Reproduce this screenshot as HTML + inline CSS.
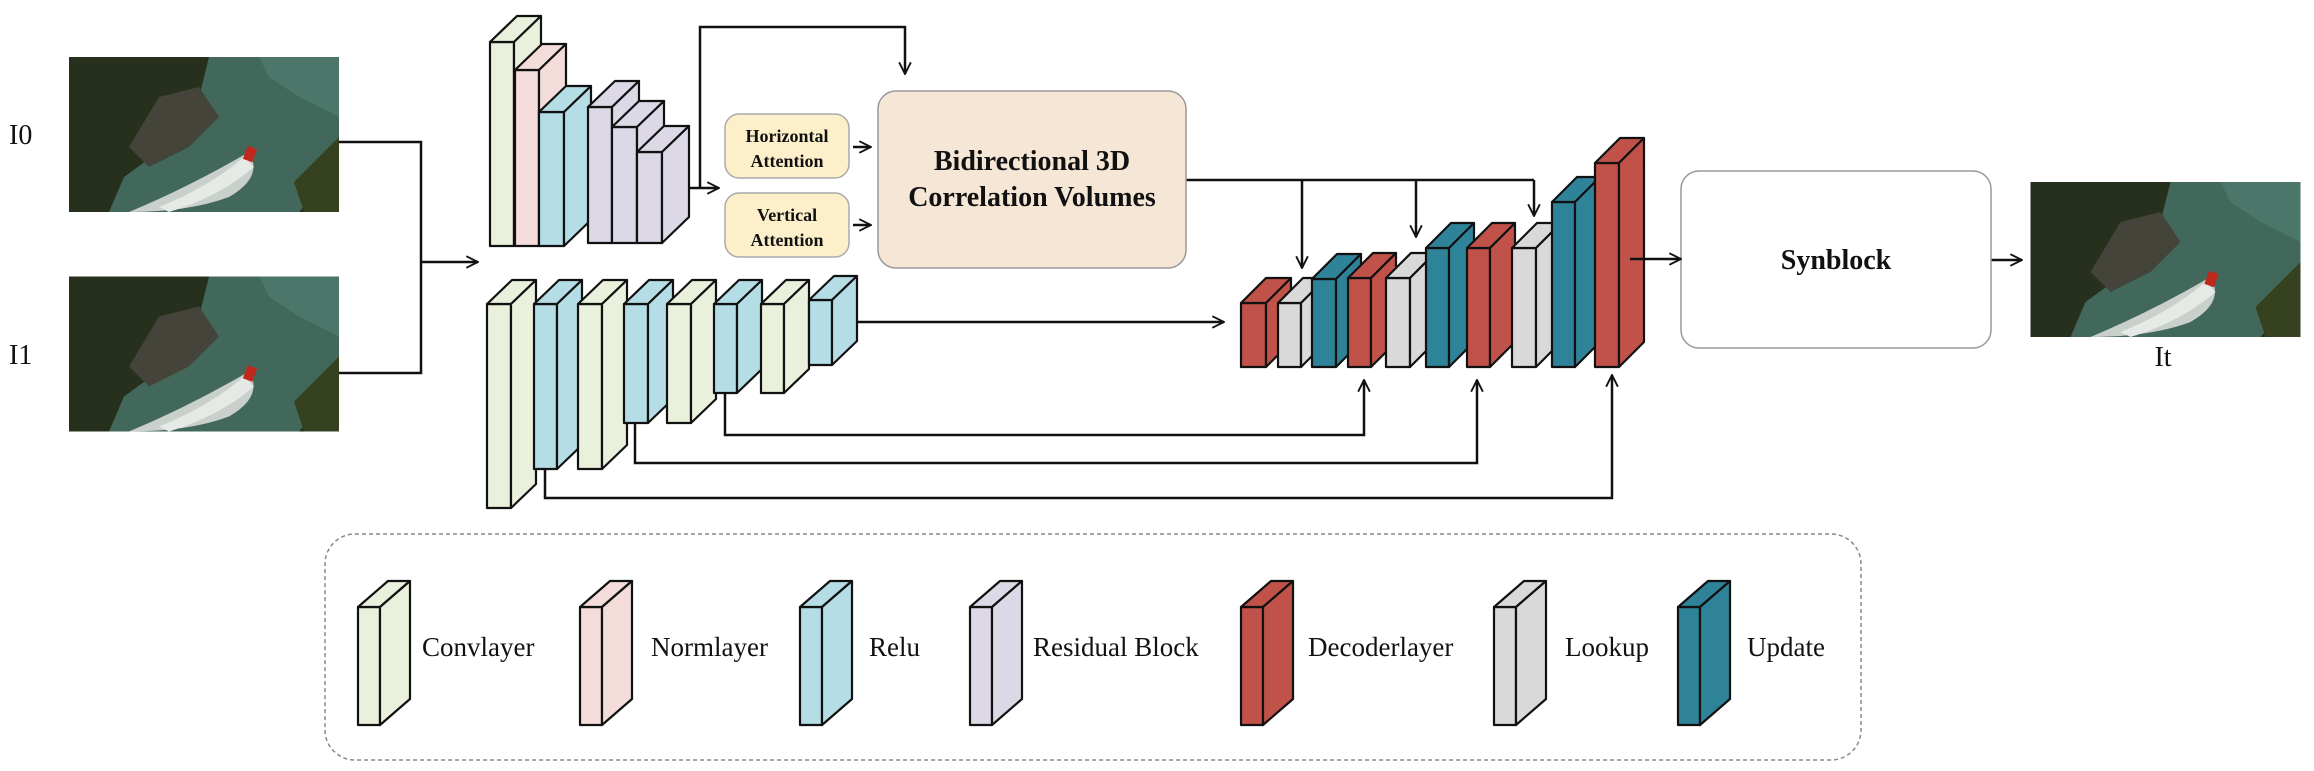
<!DOCTYPE html>
<html><head><meta charset="utf-8"><style>
html,body{margin:0;padding:0;background:#fff;}
svg{display:block;}
text{font-family:"Liberation Serif","DejaVu Serif",serif;fill:#111;}
</style></head><body>
<svg width="2314" height="771" viewBox="0 0 2314 771" xmlns="http://www.w3.org/2000/svg" font-family="Liberation Serif, DejaVu Serif, serif">
<defs>
<marker id="ar" viewBox="0 0 12 12" refX="11" refY="6" markerWidth="14" markerHeight="14" markerUnits="userSpaceOnUse" orient="auto">
<path d="M1,1 L11,6 L1,11" fill="none" stroke="#111" stroke-width="1.6"/>
</marker>
<symbol id="ph" viewBox="0 0 270 155">
<rect width="270" height="155" fill="#26301c"/>
<polygon points="140,0 270,0 270,110 230,155 40,155 55,120 110,80 130,40" fill="#42685c"/>
<polygon points="190,0 270,0 270,60 230,40 200,20" fill="#4b7669"/>
<polygon points="90,40 130,30 150,60 120,90 80,110 60,90" fill="#45443a"/>
<polygon points="225,125 270,80 270,155 235,155" fill="#36421f"/>
<path d="M60,155 Q120,130 180,95 Q195,120 160,140 Q120,155 60,155Z" fill="#c9cfca"/>
<path d="M90,150 Q140,130 175,100 L185,110 Q150,140 100,155Z" fill="#e6eae6"/>
<rect x="176" y="90" width="10" height="14" fill="#c0281e" transform="rotate(20 181 97)"/>
</symbol>
</defs>

<use href="#ph" x="69" y="57" width="270" height="155"/>
<use href="#ph" x="69" y="276" width="270" height="156"/>
<use href="#ph" x="2030" y="182" width="271" height="155"/>
<text x="9" y="144" font-size="28">I0</text>
<text x="9" y="364" font-size="28">I1</text>
<text x="2163" y="366" font-size="28" text-anchor="middle">It</text>

<g fill="none" stroke="#111" stroke-width="2.5">
<polyline points="339,142 421,142 421,373 339,373"/>
<line x1="421" y1="262" x2="478" y2="262" marker-end="url(#ar)"/>
<line x1="676" y1="188" x2="719" y2="188" marker-end="url(#ar)"/>
<polyline points="700,188 700,27 905,27 905,74" marker-end="url(#ar)"/>
<line x1="853" y1="147" x2="871" y2="147" marker-end="url(#ar)"/>
<line x1="853" y1="225" x2="871" y2="225" marker-end="url(#ar)"/>
<line x1="845" y1="322" x2="1224" y2="322" marker-end="url(#ar)"/>
<polyline points="725,393 725,435 1364,435 1364,380" marker-end="url(#ar)"/>
<polyline points="635,423 635,463 1477,463 1477,380" marker-end="url(#ar)"/>
<polyline points="545,469 545,498 1612,498 1612,375" marker-end="url(#ar)"/>
<line x1="1186" y1="180" x2="1534" y2="180"/>
<line x1="1302" y1="180" x2="1302" y2="268" marker-end="url(#ar)"/>
<line x1="1416" y1="180" x2="1416" y2="237" marker-end="url(#ar)"/>
<line x1="1534" y1="180" x2="1534" y2="216" marker-end="url(#ar)"/>
<line x1="1991" y1="260" x2="2022" y2="260" marker-end="url(#ar)"/>
</g>

<rect x="725" y="114" width="124" height="64" rx="14" fill="#fcefc9" stroke="#aaa" stroke-width="1.5"/>
<rect x="725" y="193" width="124" height="64" rx="14" fill="#fcefc9" stroke="#aaa" stroke-width="1.5"/>
<text x="787" y="142" font-size="18" font-weight="bold" text-anchor="middle">Horizontal</text>
<text x="787" y="167" font-size="18" font-weight="bold" text-anchor="middle">Attention</text>
<text x="787" y="221" font-size="18" font-weight="bold" text-anchor="middle">Vertical</text>
<text x="787" y="246" font-size="18" font-weight="bold" text-anchor="middle">Attention</text>
<rect x="878" y="91" width="308" height="177" rx="18" fill="#f5e6d6" stroke="#999" stroke-width="1.5"/>
<text x="1032" y="170" font-size="28" font-weight="bold" text-anchor="middle">Bidirectional 3D</text>
<text x="1032" y="206" font-size="28" font-weight="bold" text-anchor="middle">Correlation Volumes</text>
<rect x="1681" y="171" width="310" height="177" rx="18" fill="#fff" stroke="#999" stroke-width="1.5"/>
<text x="1836" y="269" font-size="28" font-weight="bold" text-anchor="middle">Synblock</text>

<g stroke="#111" stroke-width="2.2" stroke-linejoin="round">
<g fill="#e9f0dc"><rect x="490" y="42" width="24" height="204"/><polygon points="490,42 517,16 541,16 514,42"/><polygon points="514,42 541,16 541,220 514,246"/></g>
<g fill="#f3dcd9"><rect x="515" y="70" width="24" height="176"/><polygon points="515,70 542,44 566,44 539,70"/><polygon points="539,70 566,44 566,220 539,246"/></g>
<g fill="#b5dde6"><rect x="539" y="112" width="25" height="134"/><polygon points="539,112 566,86 591,86 564,112"/><polygon points="564,112 591,86 591,220 564,246"/></g>
<g fill="#dcd8e6"><rect x="588" y="107" width="24" height="136"/><polygon points="588,107 615,81 639,81 612,107"/><polygon points="612,107 639,81 639,217 612,243"/></g>
<g fill="#dcd8e6"><rect x="612" y="127" width="25" height="116"/><polygon points="612,127 639,101 664,101 637,127"/><polygon points="637,127 664,101 664,217 637,243"/></g>
<g fill="#dcd8e6"><rect x="637" y="152" width="25" height="91"/><polygon points="637,152 664,126 689,126 662,152"/><polygon points="662,152 689,126 689,217 662,243"/></g>
<g fill="#e9f0dc"><rect x="487" y="304" width="24" height="204"/><polygon points="487,304 512,280 536,280 511,304"/><polygon points="511,304 536,280 536,484 511,508"/></g>
<g fill="#b5dde6"><rect x="534" y="304" width="23" height="165"/><polygon points="534,304 559,280 582,280 557,304"/><polygon points="557,304 582,280 582,445 557,469"/></g>
<g fill="#e9f0dc"><rect x="578" y="304" width="24" height="165"/><polygon points="578,304 603,280 627,280 602,304"/><polygon points="602,304 627,280 627,445 602,469"/></g>
<g fill="#b5dde6"><rect x="624" y="304" width="24" height="119"/><polygon points="624,304 649,280 673,280 648,304"/><polygon points="648,304 673,280 673,399 648,423"/></g>
<g fill="#e9f0dc"><rect x="667" y="304" width="24" height="119"/><polygon points="667,304 692,280 716,280 691,304"/><polygon points="691,304 716,280 716,399 691,423"/></g>
<g fill="#b5dde6"><rect x="714" y="304" width="23" height="89"/><polygon points="714,304 739,280 762,280 737,304"/><polygon points="737,304 762,280 762,369 737,393"/></g>
<g fill="#e9f0dc"><rect x="761" y="304" width="23" height="89"/><polygon points="761,304 786,280 809,280 784,304"/><polygon points="784,304 809,280 809,369 784,393"/></g>
<g fill="#b5dde6"><rect x="809" y="300" width="23" height="65"/><polygon points="809,300 834,276 857,276 832,300"/><polygon points="832,300 857,276 857,341 832,365"/></g>
<g fill="#c0524a"><rect x="1241" y="303" width="25" height="64"/><polygon points="1241,303 1266,278 1291,278 1266,303"/><polygon points="1266,303 1291,278 1291,342 1266,367"/></g>
<g fill="#d9d9d9"><rect x="1278" y="303" width="23" height="64"/><polygon points="1278,303 1303,278 1326,278 1301,303"/><polygon points="1301,303 1326,278 1326,342 1301,367"/></g>
<g fill="#2f8399"><rect x="1312" y="279" width="24" height="88"/><polygon points="1312,279 1337,254 1361,254 1336,279"/><polygon points="1336,279 1361,254 1361,342 1336,367"/></g>
<g fill="#c0524a"><rect x="1348" y="278" width="23" height="89"/><polygon points="1348,278 1373,253 1396,253 1371,278"/><polygon points="1371,278 1396,253 1396,342 1371,367"/></g>
<g fill="#d9d9d9"><rect x="1386" y="278" width="24" height="89"/><polygon points="1386,278 1411,253 1435,253 1410,278"/><polygon points="1410,278 1435,253 1435,342 1410,367"/></g>
<g fill="#2f8399"><rect x="1426" y="248" width="23" height="119"/><polygon points="1426,248 1451,223 1474,223 1449,248"/><polygon points="1449,248 1474,223 1474,342 1449,367"/></g>
<g fill="#c0524a"><rect x="1467" y="248" width="23" height="119"/><polygon points="1467,248 1492,223 1515,223 1490,248"/><polygon points="1490,248 1515,223 1515,342 1490,367"/></g>
<g fill="#d9d9d9"><rect x="1512" y="248" width="24" height="119"/><polygon points="1512,248 1537,223 1561,223 1536,248"/><polygon points="1536,248 1561,223 1561,342 1536,367"/></g>
<g fill="#2f8399"><rect x="1552" y="202" width="23" height="165"/><polygon points="1552,202 1577,177 1600,177 1575,202"/><polygon points="1575,202 1600,177 1600,342 1575,367"/></g>
<g fill="#c0524a"><rect x="1595" y="163" width="24" height="204"/><polygon points="1595,163 1620,138 1644,138 1619,163"/><polygon points="1619,163 1644,138 1644,342 1619,367"/></g>
</g>
<line x1="1630" y1="259" x2="1681" y2="259" stroke="#111" stroke-width="2.5" marker-end="url(#ar)"/>

<rect x="325" y="534" width="1536" height="226" rx="30" fill="none" stroke="#888" stroke-width="1.5" stroke-dasharray="4,3"/>
<g stroke="#111" stroke-width="2.2" stroke-linejoin="round">
<g fill="#e9f0dc"><rect x="358" y="607" width="22" height="118"/><polygon points="358,607 388,581 410,581 380,607"/><polygon points="380,607 410,581 410,699 380,725"/></g>
<g fill="#f3dcd9"><rect x="580" y="607" width="22" height="118"/><polygon points="580,607 610,581 632,581 602,607"/><polygon points="602,607 632,581 632,699 602,725"/></g>
<g fill="#b5dde6"><rect x="800" y="607" width="22" height="118"/><polygon points="800,607 830,581 852,581 822,607"/><polygon points="822,607 852,581 852,699 822,725"/></g>
<g fill="#dcd8e6"><rect x="970" y="607" width="22" height="118"/><polygon points="970,607 1000,581 1022,581 992,607"/><polygon points="992,607 1022,581 1022,699 992,725"/></g>
<g fill="#c0524a"><rect x="1241" y="607" width="22" height="118"/><polygon points="1241,607 1271,581 1293,581 1263,607"/><polygon points="1263,607 1293,581 1293,699 1263,725"/></g>
<g fill="#d9d9d9"><rect x="1494" y="607" width="22" height="118"/><polygon points="1494,607 1524,581 1546,581 1516,607"/><polygon points="1516,607 1546,581 1546,699 1516,725"/></g>
<g fill="#2f8399"><rect x="1678" y="607" width="22" height="118"/><polygon points="1678,607 1708,581 1730,581 1700,607"/><polygon points="1700,607 1730,581 1730,699 1700,725"/></g>
</g>
<g font-size="27">
<text x="422" y="656">Convlayer</text>
<text x="651" y="656">Normlayer</text>
<text x="869" y="656">Relu</text>
<text x="1033" y="656">Residual Block</text>
<text x="1308" y="656">Decoderlayer</text>
<text x="1565" y="656">Lookup</text>
<text x="1747" y="656">Update</text>
</g>
</svg>
</body></html>
